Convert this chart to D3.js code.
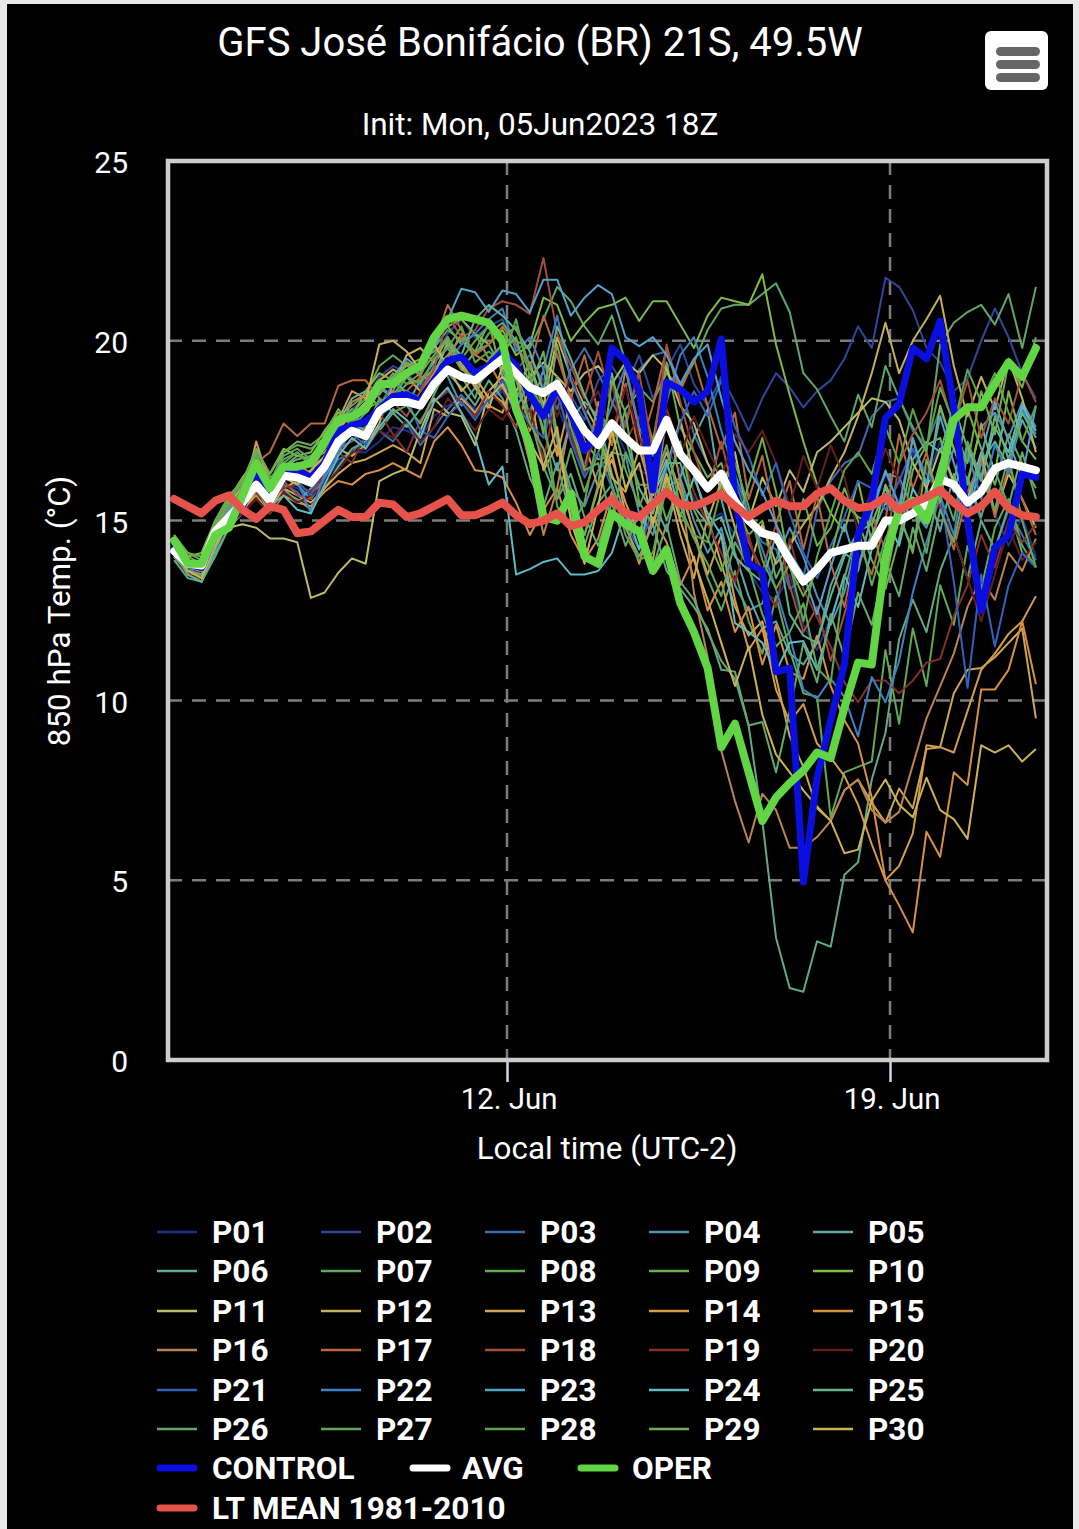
<!DOCTYPE html>
<html>
<head>
<meta charset="utf-8">
<script src="https://cdn.jsdelivr.net/npm/d3@7"></script>
<style>
  html, body { margin: 0; padding: 0; background: #e9e9e9; }
  svg { display: block; font-family: Roboto, sans-serif; }
</style>
</head>
<body>
<svg id="chart" width="1079" height="1529"></svg>
<script>
// Values, one every 6 hours from 5 Jun 22:00 local
const CONTROL = [14.2,13.8,13.7,14.6,15.0,15.4,16.3,15.6,16.3,16.4,16.2,16.6,17.5,17.65,17.75,18.1,18.45,18.5,18.3,18.9,19.45,19.55,19.1,19.3,19.7,19.3,18.5,17.9,18.7,18.0,16.95,17.5,19.8,19.45,18.6,15.85,18.85,18.65,18.3,18.6,20.05,15.55,13.8,13.6,10.8,10.9,4.95,7.85,9.45,11.0,14.6,15.55,17.85,18.25,19.8,19.5,20.55,18.15,15.0,12.5,14.25,14.6,16.3,16.2];
const AVG = [14.15,13.8,13.75,14.7,15.1,15.5,16.0,15.55,16.25,16.2,16.05,16.5,17.2,17.5,17.35,18.05,18.3,18.3,18.2,18.8,19.2,19.0,18.9,19.2,19.5,19.1,18.7,18.55,18.8,18.15,17.5,17.1,17.7,17.3,16.95,16.95,17.8,16.85,16.4,15.9,16.3,15.55,15.0,14.65,14.55,13.9,13.3,13.65,14.1,14.2,14.3,14.3,15.0,15.0,15.2,15.45,16.15,16.0,15.5,15.8,16.45,16.6,16.5,16.4];
const OPER = [14.45,13.8,13.8,14.6,14.8,15.7,16.6,15.9,16.5,16.5,16.6,17.2,17.8,17.9,18.1,18.8,18.8,19.1,19.3,20.1,20.6,20.7,20.6,20.5,20.0,18.1,17.1,15.1,15.0,15.75,14.0,13.8,15.2,14.9,14.7,13.6,14.2,12.7,11.9,10.9,8.7,9.35,8.0,6.65,7.3,7.7,8.05,8.55,8.4,9.8,11.05,11.0,14.0,15.3,15.55,15.0,16.2,17.8,18.15,18.15,18.8,19.4,19.0,19.8];
const LT_MEAN = [15.6,15.4,15.2,15.55,15.7,15.3,15.05,15.4,15.3,14.65,14.7,15.0,15.3,15.1,15.1,15.5,15.45,15.1,15.2,15.4,15.6,15.15,15.15,15.3,15.5,15.15,14.9,15.0,15.2,14.85,14.95,15.3,15.6,15.2,15.1,15.45,15.8,15.45,15.4,15.55,15.75,15.4,15.1,15.35,15.55,15.4,15.4,15.75,15.9,15.55,15.35,15.4,15.65,15.3,15.5,15.65,15.85,15.5,15.2,15.4,15.8,15.35,15.15,15.1];

const P01 = [14.1,13.6,13.5,14.5,15.0,15.3,15.9,15.5,16.0,15.9,15.6,16.1,16.6,16.9,16.9,17.2,17.6,17.5,17.3,17.9,18.2,18.4,18.1,18.3,18.6,18.0,18.4,17.6,18.2,17.2,16.6,17.4,17.8,16.9,16.4,16.2,17.0,16.4,15.6,15.0,15.2,14.6,13.6,13.0,12.8,13.5,12.1,11.4,12.3,13.4,14.6,15.2,16.3,15.5,16.9,16.1,17.2,15.9,15.0,16.4,15.2,14.3,15.1,14.0];
const P02 = [14.0,13.7,13.6,14.6,15.1,15.4,15.8,15.4,16.1,16.2,16.4,17.0,17.6,18.1,18.4,19.0,19.3,19.1,18.7,19.5,20.2,20.6,20.1,20.4,20.6,19.8,19.4,18.9,19.6,18.5,17.8,18.9,19.3,18.7,19.6,18.4,19.2,19.9,18.8,18.2,19.0,18.3,17.5,18.4,19.1,18.7,18.15,18.6,18.9,19.5,20.4,19.8,21.75,21.5,20.85,19.8,19.4,18.6,18.95,20.0,20.9,20.1,19.1,18.4];
const P03 = [14.3,13.8,13.8,14.8,15.2,15.5,16.0,15.5,16.0,15.8,15.3,16.2,16.7,16.9,17.3,17.5,17.2,17.7,17.1,17.6,18.1,18.5,18.0,18.3,18.7,19.2,19.6,18.8,18.1,19.2,19.8,19.1,18.3,17.7,19.2,19.6,19.7,18.8,17.4,16.6,15.9,16.1,15.0,14.4,14.2,13.1,13.4,15.3,16.1,16.6,16.8,17.9,18.3,18.4,17.5,17.1,18.1,17.0,16.1,15.0,14.2,15.3,14.6,13.9];
const P04 = [14.1,13.7,13.4,14.2,15.0,15.8,16.5,15.9,16.6,16.0,15.6,16.2,16.9,17.6,18.0,18.8,18.4,19.0,18.6,19.3,19.0,18.2,18.7,19.1,19.6,18.6,18.0,19.2,17.2,15.9,15.4,16.4,16.9,16.8,15.2,14.6,15.9,16.2,15.0,14.1,14.8,13.2,12.5,12.7,13.9,14.8,14.0,12.9,12.1,13.0,14.6,15.5,16.3,16.2,15.3,14.8,15.9,17.0,16.1,17.6,18.0,17.3,18.3,17.6];
const P05 = [14.0,13.5,13.3,14.1,14.9,15.6,16.1,15.3,15.9,15.5,15.9,16.3,17.0,17.5,17.8,18.1,18.6,18.2,18.9,19.4,19.8,19.2,19.7,19.9,19.2,18.1,18.9,17.5,16.4,17.8,18.3,17.9,16.3,15.1,14.7,15.6,14.7,16.2,17.3,18.1,15.6,14.1,12.9,12.0,12.2,11.3,11.0,11.6,13.2,14.1,13.8,14.6,15.5,15.1,14.2,15.9,14.7,16.3,15.1,16.6,17.2,16.5,17.8,17.0];
const P06 = [13.9,13.4,13.3,14.0,14.8,15.2,15.9,15.2,15.8,15.6,15.3,15.9,16.5,17.0,17.2,17.5,18.0,17.6,18.1,18.6,19.1,18.7,18.2,18.9,18.4,17.5,16.2,15.4,16.6,15.1,14.3,15.5,16.0,14.8,14.0,14.9,13.6,13.1,12.6,12.0,10.85,10.8,9.3,6.65,3.4,2.0,1.9,3.3,3.15,5.15,5.5,7.8,9.1,11.7,12.8,11.9,13.6,14.6,13.4,15.0,14.2,15.4,14.1,13.7];
const P07 = [14.2,13.9,13.7,14.6,15.4,16.0,16.7,16.0,16.7,16.9,16.6,17.0,17.6,18.0,18.4,18.9,19.2,19.0,19.4,19.8,20.3,20.0,19.6,20.2,20.5,20.0,19.8,20.6,21.5,21.1,20.4,19.9,20.7,19.4,18.7,18.3,19.1,18.7,19.4,20.3,20.9,21.0,21.0,21.3,21.6,20.8,19.1,18.65,17.9,17.2,18.5,17.6,19.3,18.4,17.6,16.9,19.9,20.5,20.8,21.0,20.45,21.3,19.8,21.5];
const P08 = [14.5,14.0,13.8,14.8,15.5,15.9,16.9,16.0,16.9,17.1,17.0,17.3,17.9,18.2,18.5,19.3,19.6,19.3,19.1,20.0,20.4,19.9,20.2,19.5,19.9,19.3,17.9,16.5,15.6,17.0,15.8,16.9,17.8,16.4,15.4,16.3,15.0,16.1,14.6,13.4,12.5,13.6,12.2,11.3,12.9,11.4,10.2,10.1,6.75,8.0,8.15,8.3,11.4,9.35,12.0,10.4,13.2,12.1,14.3,13.1,14.8,15.6,14.3,13.7];
const P09 = [14.4,13.8,13.9,14.9,15.3,16.0,17.0,16.2,16.5,16.8,16.7,16.9,17.3,17.7,18.3,18.7,18.4,18.8,18.9,19.2,19.6,20.1,19.7,20.5,19.0,18.4,19.1,17.4,19.9,18.3,17.2,16.7,16.8,18.1,18.6,17.2,19.4,17.6,16.9,16.2,16.6,15.5,14.6,15.0,13.4,14.2,15.6,14.3,14.8,15.9,15.0,13.9,13.1,14.5,16.4,17.1,17.3,16.0,18.1,17.0,16.0,17.4,16.6,15.9];
const P10 = [14.6,14.0,14.1,15.0,15.6,16.2,16.7,16.3,17.0,16.8,16.9,17.5,18.0,17.9,18.6,19.1,18.9,19.4,19.2,20.0,20.4,20.6,20.2,19.9,20.3,19.6,19.9,21.2,21.0,20.0,20.5,20.9,21.0,21.2,20.55,21.1,21.1,20.45,19.8,20.7,21.2,21.1,21.0,21.85,19.9,18.5,17.2,16.0,15.2,14.7,16.1,14.4,16.0,15.2,17.3,15.9,18.2,17.0,16.0,17.7,16.3,18.6,17.2,16.7];
const P11 = [14.4,13.9,13.6,14.4,14.8,14.9,14.8,14.5,14.5,14.4,12.85,13.0,13.55,13.95,13.8,16.1,16.3,16.45,17.5,18.4,18.0,17.9,17.1,18.6,19.0,18.6,19.0,19.4,19.0,18.6,19.1,19.3,18.8,19.4,19.1,19.6,19.2,18.2,17.7,16.6,15.9,16.9,15.0,16.2,15.4,16.4,15.8,16.9,17.2,17.6,18.0,18.4,18.3,17.8,16.6,15.9,17.0,16.1,15.6,16.9,15.2,16.3,15.6,14.8];
const P12 = [14.3,13.7,13.5,14.3,14.9,15.3,15.8,15.6,15.9,16.1,16.2,16.4,17.0,16.8,17.1,17.7,18.8,19.6,19.8,19.4,20.1,19.3,18.7,18.1,19.3,18.6,19.4,18.2,20.1,19.0,18.2,17.5,16.2,15.8,17.0,15.7,16.5,17.8,16.3,15.0,16.1,14.8,13.6,14.9,13.8,14.3,14.9,15.4,16.2,16.9,17.9,19.1,20.5,19.1,20.0,20.6,21.25,19.3,17.9,19.0,18.1,19.5,18.4,16.9];
const P13 = [14.1,13.5,13.4,14.2,15.5,15.9,16.2,15.3,15.9,15.7,15.5,15.9,16.3,16.6,16.7,16.9,17.1,16.9,16.6,18.1,17.9,18.4,18.0,18.6,18.3,17.6,18.7,16.4,17.1,15.4,14.6,15.9,16.9,15.2,14.6,13.9,16.2,14.6,13.4,15.1,13.8,12.6,11.8,12.2,10.65,9.0,8.15,7.0,6.65,7.5,7.8,7.15,6.6,7.55,7.0,8.65,8.7,10.2,10.85,10.9,11.2,11.6,12.0,9.5];
const P14 = [14.3,13.7,13.6,14.5,15.2,15.6,17.2,16.0,16.5,16.3,16.6,17.0,17.8,18.6,18.4,18.9,19.2,19.0,18.6,19.1,19.9,19.4,18.8,18.2,18.0,19.1,17.5,18.6,16.8,18.4,17.2,15.9,16.7,15.5,14.6,15.9,16.9,15.8,14.7,13.5,14.6,12.8,11.4,12.0,10.3,9.4,9.9,8.8,8.4,7.9,7.1,6.0,5.0,5.4,6.3,8.75,8.7,8.55,9.7,10.85,11.3,11.85,12.2,12.9];
const P15 = [14.0,13.5,13.5,14.4,15.1,15.3,15.7,15.2,15.7,15.5,15.4,15.8,16.1,16.0,16.3,16.4,16.6,16.4,16.2,17.2,17.6,17.1,16.4,16.35,16.2,15.5,14.6,15.3,15.9,14.6,13.9,14.5,15.8,14.9,13.8,15.1,14.4,13.2,14.0,12.5,13.3,11.9,12.6,11.0,12.1,10.8,10.6,11.8,10.4,9.45,8.8,7.3,5.0,4.3,3.55,6.35,5.65,8.0,7.65,10.3,10.3,10.85,12.2,10.45];
const P16 = [14.4,13.8,13.6,14.3,15.4,15.6,16.2,15.8,16.3,16.6,16.3,17.1,17.5,18.3,18.5,18.2,18.6,19.4,19.0,18.9,19.5,20.2,19.6,19.4,18.7,18.1,16.6,14.6,15.9,17.9,16.4,18.3,17.1,19.2,17.5,15.2,17.9,16.1,13.0,11.2,8.6,7.2,6.05,7.4,6.95,5.9,5.9,6.2,6.65,7.5,7.8,6.95,6.6,6.9,8.2,9.5,10.4,11.3,12.6,13.4,12.8,14.1,13.6,14.5];
const P17 = [14.5,13.9,13.8,14.6,15.3,15.8,16.6,16.9,17.7,17.35,17.7,17.7,18.75,18.9,18.9,18.4,18.2,18.6,19.0,19.9,21.0,20.3,19.6,19.9,20.4,19.9,19.2,20.7,19.6,18.4,19.6,18.0,17.1,18.8,16.9,18.2,19.8,18.6,19.5,18.2,17.0,18.0,15.6,16.8,14.9,16.1,14.2,15.7,13.8,12.6,14.4,13.5,15.0,17.4,15.9,16.9,15.4,14.2,15.8,16.7,15.1,16.5,15.6,14.6];
const P18 = [14.2,13.8,13.6,14.4,15.0,15.5,15.8,15.4,16.1,15.7,15.6,16.4,17.0,17.2,17.6,17.9,18.3,17.9,18.6,19.2,20.7,20.1,20.3,20.9,21.1,21.0,20.75,22.3,20.2,19.3,18.4,19.7,18.3,17.6,19.1,16.9,19.9,18.3,16.9,15.8,17.2,15.6,14.4,13.6,14.9,13.2,11.9,12.6,11.1,12.4,13.7,15.1,14.2,16.6,17.4,18.0,18.9,17.6,18.9,17.3,18.4,17.7,19.1,18.3];
const P19 = [14.1,13.7,13.5,14.3,15.1,15.4,16.0,15.6,15.9,16.0,15.8,16.3,16.9,16.6,17.4,18.0,17.4,16.9,17.8,18.3,18.6,18.3,17.9,18.6,18.2,17.6,18.1,16.7,18.5,17.4,16.3,17.9,18.8,17.2,17.9,16.4,18.1,17.0,15.8,14.9,14.1,13.3,14.6,13.2,12.6,14.5,13.1,12.3,11.5,10.5,9.95,10.55,10.55,10.2,10.55,11.05,11.15,12.35,13.2,14.6,13.7,15.0,14.4,14.9];
const P20 = [14.0,13.5,13.4,14.2,14.9,15.2,15.6,15.2,15.8,15.5,15.7,16.0,16.4,16.9,17.0,17.5,17.3,17.8,17.2,17.6,18.4,18.0,17.5,18.1,17.8,18.4,17.6,18.9,17.9,19.0,18.0,18.6,17.5,18.7,17.3,16.5,17.6,16.8,17.9,17.0,16.2,17.4,16.9,17.5,16.6,15.4,16.8,15.9,17.1,16.2,14.7,15.9,17.0,16.1,15.2,16.5,15.3,14.6,13.4,12.2,13.5,14.8,13.9,14.4];
const P21 = [14.3,13.9,13.7,14.7,15.3,15.6,16.3,15.6,16.2,16.1,15.7,16.6,17.1,17.4,17.1,17.9,18.2,18.4,17.5,17.3,17.9,18.3,17.8,18.4,18.9,18.2,17.7,17.3,18.6,17.2,16.2,16.9,15.9,14.9,14.2,15.3,16.4,17.7,18.6,17.9,18.9,17.6,16.8,15.7,16.6,15.2,14.1,13.4,14.3,15.1,16.1,15.9,15.3,16.1,17.0,16.3,15.8,13.3,10.35,13.5,11.5,13.2,14.1,13.7];
const P22 = [14.2,13.6,13.7,14.5,15.2,15.9,16.4,15.5,16.4,16.1,15.2,16.3,16.9,17.5,17.6,18.2,18.8,18.6,18.4,18.9,19.4,19.9,20.2,20.6,20.9,19.7,20.1,19.2,20.7,18.9,18.0,17.2,18.2,19.3,17.6,16.8,18.3,19.6,20.1,19.0,17.5,16.3,15.2,14.2,13.1,11.8,10.3,10.05,10.6,10.1,9.0,10.65,9.95,11.1,13.0,14.4,15.7,14.6,16.9,15.6,17.1,16.3,18.1,17.4];
const P23 = [14.2,13.7,13.7,14.6,15.3,15.7,16.2,15.7,16.3,16.5,16.2,16.8,17.5,18.0,18.2,18.6,19.0,19.5,19.2,19.8,20.6,21.45,21.35,20.8,21.4,21.3,20.8,21.7,21.7,20.7,21.2,21.55,21.3,20.1,19.85,20.1,19.6,18.8,19.5,19.9,18.4,17.2,16.4,15.8,14.9,14.1,13.5,12.4,13.7,14.9,13.6,15.2,16.4,15.4,17.3,16.0,17.9,16.6,15.4,16.8,18.3,17.2,16.2,18.2];
const P24 = [14.0,13.6,13.5,14.4,15.1,15.6,16.1,15.4,15.7,15.3,15.2,16.0,16.8,17.3,17.0,17.6,18.1,17.8,17.3,18.3,18.7,18.0,17.3,16.0,16.5,13.5,13.65,13.85,13.95,13.5,13.5,13.6,14.1,15.3,14.2,15.8,16.7,15.1,16.2,15.2,14.6,12.15,11.9,11.6,10.8,11.6,11.65,10.85,12.2,13.5,12.6,14.2,15.1,14.3,15.9,15.2,16.6,15.8,17.1,16.2,17.6,16.9,18.2,17.5];
const P25 = [14.1,13.5,13.3,14.2,15.0,15.7,16.3,15.6,16.5,16.7,16.8,17.2,17.7,18.4,18.6,18.5,19.0,18.5,18.3,19.0,20.0,19.6,20.6,21.0,20.7,20.3,19.7,18.6,20.4,19.5,18.5,17.7,19.1,17.3,15.9,15.2,16.6,16.6,15.4,14.9,15.1,14.0,13.6,13.3,14.6,12.4,11.8,11.6,12.9,14.0,14.7,14.9,15.9,15.0,16.7,17.2,16.9,18.2,17.0,16.1,17.9,16.7,18.0,17.3];
const P26 = [14.0,13.6,13.5,14.5,15.0,15.4,16.2,15.4,16.4,16.4,16.0,16.6,17.2,17.7,17.5,18.4,18.0,18.2,17.7,18.5,19.3,19.0,18.4,19.5,19.8,18.9,17.7,17.0,15.6,16.3,15.1,14.3,15.5,14.3,15.2,13.7,14.9,13.3,12.8,11.9,11.1,10.6,9.3,9.4,8.0,9.7,11.6,10.5,12.4,11.2,13.0,12.1,13.9,12.9,14.8,13.6,15.3,14.4,16.2,15.1,16.4,15.4,16.9,15.6];
const P27 = [14.5,14.1,13.9,15.0,15.7,16.1,16.8,16.1,16.8,17.0,16.7,17.1,17.8,18.1,18.0,18.6,19.1,18.8,19.1,19.6,20.1,19.5,20.0,20.4,20.1,20.4,19.3,18.1,19.0,17.6,16.4,16.6,14.9,16.9,16.0,16.0,17.1,15.4,14.5,13.8,12.9,14.4,13.7,12.4,11.5,11.9,12.7,10.9,10.5,13.4,14.8,13.2,14.5,15.3,15.4,14.1,16.1,15.0,17.2,16.2,15.3,16.8,15.0,13.7];
const P28 = [14.4,13.9,13.8,14.9,15.4,15.8,16.5,15.9,16.6,16.9,16.5,16.7,17.4,17.8,18.1,18.3,18.5,19.0,18.8,19.5,19.8,20.4,19.4,19.7,19.4,20.6,19.0,17.9,15.4,14.8,15.5,17.4,16.0,14.6,13.9,14.1,16.0,15.2,14.6,14.4,15.9,16.6,15.4,13.9,13.1,13.8,12.2,14.0,15.2,16.4,16.9,16.3,17.6,16.6,18.1,17.0,18.7,17.7,19.2,18.3,19.1,18.0,17.2,18.2];
const P29 = [14.6,14.1,14.0,14.9,15.5,16.1,17.0,16.3,16.9,17.2,17.1,17.4,18.1,17.6,18.2,18.6,19.0,19.3,19.5,19.7,20.0,19.2,19.0,19.3,19.7,20.1,18.7,19.7,17.4,15.6,14.6,16.0,18.9,18.0,15.5,14.9,15.9,17.2,15.3,14.5,13.6,14.7,16.0,17.3,15.8,13.7,12.9,13.6,14.0,15.5,15.1,14.9,13.3,15.2,14.1,16.7,15.5,17.6,16.6,18.6,17.4,19.4,18.7,20.1];
const P30 = [14.2,13.6,13.4,14.3,15.0,15.4,16.0,15.7,16.2,16.0,16.4,16.8,17.6,17.9,18.3,19.9,20.0,19.7,19.2,19.9,19.3,18.6,19.0,18.4,18.8,18.0,17.2,16.5,17.6,15.0,13.8,15.4,17.5,15.9,16.6,14.9,16.3,15.0,13.9,12.8,11.6,10.4,11.5,9.6,8.5,8.0,7.5,7.05,6.65,5.75,5.85,7.2,7.8,7.1,6.75,7.85,6.95,6.7,6.15,8.75,8.55,8.75,8.3,8.65];

const members = [P01,P02,P03,P04,P05,P06,P07,P08,P09,P10,P11,P12,P13,P14,P15,P16,P17,P18,P19,P20,P21,P22,P23,P24,P25,P26,P27,P28,P29,P30];
const memberNames = members.map((_, i) => 'P' + String(i + 1).padStart(2, '0'));
const memberColors = ['#1f2f8a','#2f479c','#3f6cab','#5491b5','#5ca8a6','#62a985','#5fa668','#62a954','#70ad4c','#80b946',
  '#bcbc66','#c2b05a','#cda653','#d69c4c','#d98f43','#b98450','#b9683c','#a34f3c','#86302e','#641e1e',
  '#3361bc','#3f80c4','#54a2cc','#5fbac2','#63b292','#64a870','#5fa85c','#5fa44c','#70ad4c','#cdb255'];

const heavyNames = ['CONTROL', 'AVG', 'OPER', 'LT MEAN 1981-2010'];
const heavySeries = [CONTROL, AVG, OPER, LT_MEAN];
const heavyColors = ['#0a0fe0', '#ffffff', '#62d544', '#e5534b'];

const yTicks = [0, 5, 10, 15, 20, 25];
const xTicks = [Date.UTC(2023, 5, 12), Date.UTC(2023, 5, 19)];
const xTickLabels = ['12. Jun', '19. Jun'];

const title = 'GFS José Bonifácio (BR) 21S, 49.5W';
const subtitle = 'Init: Mon, 05Jun2023 18Z';
const yTitle = '850 hPa Temp. (°C)';
const xTitle = 'Local time (UTC-2)';

const start = Date.UTC(2023, 5, 5, 22);
const times = CONTROL.map((_, i) => start + i * 6 * 3600 * 1000);

const svg = d3.select('#chart');
const plot = { left: 168, right: 1047, top: 161, bottom: 1060 };

// Dark page area with the light edge of the screenshot left around it
svg.append('rect').attr('x', 7).attr('y', 4).attr('width', 1066).attr('height', 1525).attr('fill', '#000');

// 383 px between the 12 and 19 Jun gridlines
const msPerPx = 7 * 86400000 / 383;
const x = d3.scaleUtc()
  .domain([xTicks[0] - (507 - plot.left) * msPerPx, xTicks[0] + (plot.right - 507) * msPerPx])
  .range([plot.left, plot.right]);

const y = d3.scaleLinear().domain([0, 25]).range([plot.bottom, plot.top]);

// Grid
const grid = svg.append('g');
grid.selectAll('.hgrid').data(yTicks.slice(1, 5)).enter().append('line')
  .attr('x1', plot.left).attr('x2', plot.right)
  .attr('y1', d => y(d)).attr('y2', d => y(d));
grid.selectAll('.vgrid').data(xTicks).enter().append('line')
  .attr('x1', d => x(d)).attr('x2', d => x(d))
  .attr('y1', plot.top).attr('y2', plot.bottom);
grid.selectAll('line')
  .attr('stroke', '#7d7d7d').attr('stroke-width', 2.5).attr('stroke-dasharray', '14 10');

// Axes
const yAxis = svg.append('g').attr('transform', `translate(${plot.left},2)`)
  .call(d3.axisLeft(y).tickValues(yTicks).tickSize(0).tickPadding(40));
yAxis.select('.domain').remove();
yAxis.selectAll('text').attr('fill', '#fff').style('font-size', '30px').style('font-family', 'Roboto, sans-serif');

const xAxis = svg.append('g').attr('transform', `translate(0,${plot.bottom})`)
  .call(d3.axisBottom(x).tickValues(xTicks).tickSize(22).tickPadding(6)
    .tickFormat((d, i) => xTickLabels[i]));
xAxis.select('.domain').remove();
xAxis.selectAll('line').attr('stroke', '#ccd6eb').attr('stroke-width', 2.5);
xAxis.selectAll('text').attr('fill', '#fff').attr('dx', 1.5).style('font-size', '29.4px').style('font-family', 'Roboto, sans-serif');

// Series
const line = d3.line().x((d, i) => x(times[i])).y(d => y(d));

svg.append('g').selectAll('path').data(members).enter().append('path')
  .attr('d', line)
  .attr('fill', 'none')
  .attr('stroke', (d, i) => memberColors[i])
  .attr('stroke-width', 2)
  .attr('stroke-linejoin', 'round');

svg.append('g').selectAll('path').data(heavySeries).enter().append('path')
  .attr('d', line)
  .attr('fill', 'none')
  .attr('stroke', (d, i) => heavyColors[i])
  .attr('stroke-width', (d, i) => i === 0 ? 7 : 8)
  .attr('stroke-linejoin', 'round')
  .attr('stroke-linecap', 'round');

// Plot border
svg.append('rect')
  .attr('x', plot.left).attr('y', plot.top)
  .attr('width', plot.right - plot.left).attr('height', plot.bottom - plot.top)
  .attr('fill', 'none').attr('stroke', '#cccccc').attr('stroke-width', 4.5);

// Titles
svg.append('text').text(title).attr('x', 540).attr('y', 56)
  .attr('text-anchor', 'middle').attr('fill', '#fff').style('font-size', '40px');
svg.append('text').text(subtitle).attr('x', 540).attr('y', 135)
  .attr('text-anchor', 'middle').attr('fill', '#fff').style('font-size', '31.5px');
svg.append('text').text(yTitle)
  .attr('transform', 'translate(70,611) rotate(-90)')
  .attr('text-anchor', 'middle').attr('fill', '#fff').style('font-size', '31.4px');
svg.append('text').text(xTitle).attr('x', 607).attr('y', 1159)
  .attr('text-anchor', 'middle').attr('fill', '#fff').style('font-size', '31.4px');

// Menu button
const menu = svg.append('g');
menu.append('rect').attr('x', 985).attr('y', 31).attr('width', 63).attr('height', 59).attr('rx', 6).attr('fill', '#fff');
menu.selectAll('.bar').data([47, 60, 73]).enter().append('rect')
  .attr('x', 996).attr('y', d => d).attr('width', 44).attr('height', 9).attr('rx', 4.5).attr('fill', '#666');

// Legend
const legendCols = [157, 321, 485, 649, 813];
const legendRows = [1232, 1271, 1311, 1350, 1390, 1429];
const legend = svg.append('g');

const memberItems = legend.selectAll('.item').data(memberNames).enter().append('g')
  .attr('transform', (d, i) => `translate(${legendCols[i % 5]},${legendRows[Math.floor(i / 5)]})`);
memberItems.append('line').attr('x1', 0).attr('x2', 40)
  .attr('stroke', (d, i) => memberColors[i]).attr('stroke-width', 2.5);
memberItems.append('text').text(d => d).attr('x', 55).attr('y', 11)
  .attr('fill', '#fff').style('font-size', '31.5px').style('font-weight', 700);

const heavyPos = [[157, 1468], [410, 1468], [578, 1468], [157, 1508]];
const heavyTextGap = [55, 52, 54, 55];
const heavyItems = legend.selectAll('.heavy').data(heavyNames).enter().append('g')
  .attr('transform', (d, i) => `translate(${heavyPos[i][0]},${heavyPos[i][1]})`);
heavyItems.append('line').attr('x1', 3).attr('x2', 37)
  .attr('stroke', (d, i) => heavyColors[i]).attr('stroke-width', 7).attr('stroke-linecap', 'round');
heavyItems.append('text').text(d => d).attr('x', (d, i) => heavyTextGap[i]).attr('y', 11)
  .attr('fill', '#fff').style('font-size', '31.5px').style('font-weight', 700);
</script>
</body>
</html>
